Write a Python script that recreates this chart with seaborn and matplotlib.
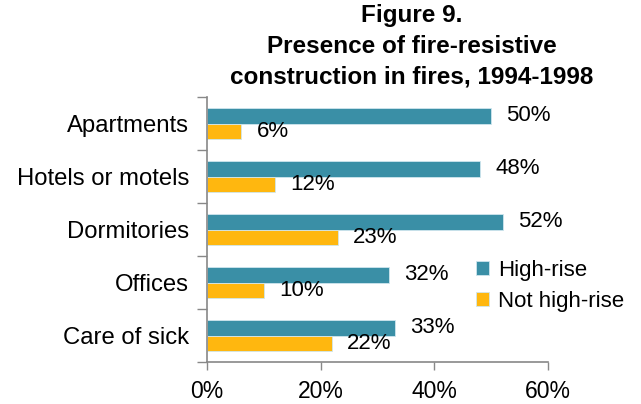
import pandas as pd
import seaborn as sns
import matplotlib.pyplot as plt
from matplotlib.ticker import PercentFormatter

categories = ['Apartments', 'Hotels or motels', 'Dormitories', 'Offices', 'Care of sick']
high_rise = [50, 48, 52, 32, 33]
not_high_rise = [6, 12, 23, 10, 22]
series_names = ['High-rise', 'Not high-rise']
colors = ['#3A8FA6', '#FFB70F']

df = pd.DataFrame({
    'Property': categories * 2,
    'Share': high_rise + not_high_rise,
    'Type': [series_names[0]] * len(categories) + [series_names[1]] * len(categories),
})

sns.set_style('white')
plt.rcParams['font.family'] = ['Liberation Sans', 'DejaVu Sans']
plt.rcParams['text.color'] = 'black'
plt.rcParams['xtick.labelcolor'] = 'black'
plt.rcParams['ytick.labelcolor'] = 'black'

fig = plt.figure(figsize=(6.41, 4.04), dpi=100)
ax = fig.add_axes([207 / 641, 1 - 362 / 404, 341 / 641, 265 / 404])

sns.barplot(data=df, y='Property', x='Share', hue='Type', order=categories,
            hue_order=series_names, palette=colors, saturation=1, orient='h', width=0.58,
            edgecolor='#cfe6ee', linewidth=0.6, ax=ax)

for cont in ax.containers:
    ax.bar_label(cont, labels=[f'{v:.0f}%' for v in cont.datavalues],
                 padding=11, fontsize=16, color='black')

ax.set_xlim(0, 60)
ax.set_xticks([0, 20, 40, 60])
ax.xaxis.set_major_formatter(PercentFormatter(decimals=0))
ax.set_ylim(4.5, -0.5)
ax.set_yticks([-0.5, 0.5, 1.5, 2.5, 3.5, 4.5])
ax.set_yticklabels([])
ax.set_yticks(range(len(categories)), minor=True)
ax.set_yticklabels(categories, minor=True, fontsize=17.2)
ax.tick_params(axis='y', which='minor', length=0, pad=13)
ax.tick_params(axis='y', which='major', length=7, width=1, color='#888888', direction='out', left=True)
ax.tick_params(axis='x', length=6, width=1, color='#888888', direction='out', bottom=True,
               labelsize=16.5, pad=7)
ax.set_xlabel('')
ax.set_ylabel('')

for side in ['top', 'right']:
    ax.spines[side].set_visible(False)
for side in ['left', 'bottom']:
    ax.spines[side].set_color('#888888')
    ax.spines[side].set_linewidth(1.2)

ax.legend(loc='center left', bbox_to_anchor=(476 / 641, 1 - 286 / 404),
          bbox_transform=fig.transFigure, frameon=False, fontsize=16,
          handlelength=0.6, handleheight=0.6, handletextpad=0.4, labelspacing=0.45,
          borderaxespad=0, borderpad=0)

fig.text(412 / 641, 1 - 4 / 404,
         'Figure 9.\nPresence of fire-resistive\nconstruction in fires, 1994-1998',
         ha='center', va='top', fontsize=17.5, fontweight='bold', linespacing=1.42)

fig.savefig('out.png', dpi=100)
